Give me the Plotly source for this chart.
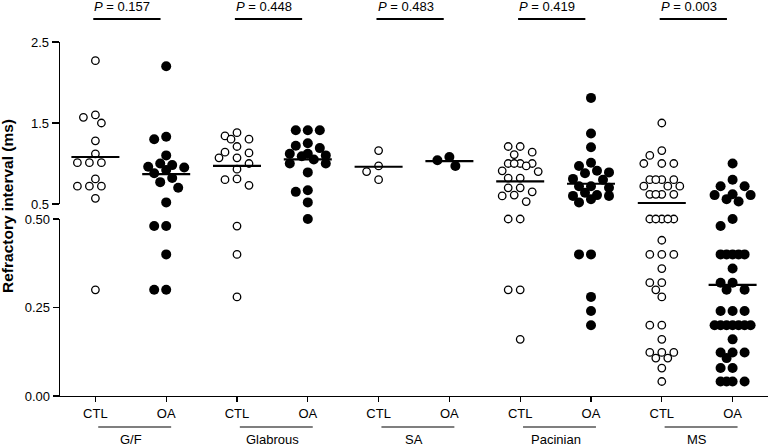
import plotly.graph_objects as go

# ---------------- data ----------------
groups = ["G/F", "Glabrous", "SA", "Pacinian", "MS"]
conditions = ["CTL", "OA"]
p_values = ["0.157", "0.448", "0.483", "0.419", "0.003"]

gf_ctl = [2.27, 1.60, 1.57, 1.50, 1.28, 1.12, 1.01, 1.01, 1.01, 0.81, 0.72, 0.72, 0.72, 0.57, 0.30]
gf_oa = [2.20, 1.33, 1.30, 1.10, 1.00, 0.98, 0.96, 0.95, 0.92, 0.88, 0.82, 0.77, 0.70, 0.52,
         0.48, 0.48, 0.40, 0.30, 0.30]
glab_ctl = [1.38, 1.34, 1.30, 1.30, 1.21, 1.14, 1.13, 1.07, 1.07, 1.00, 0.93, 0.81, 0.80, 0.73,
            0.48, 0.40, 0.28]
glab_oa = [1.41, 1.41, 1.41, 1.25, 1.22, 1.19, 1.12, 1.12, 1.10, 1.09, 1.05, 1.00, 1.00, 0.89,
           0.67, 0.65, 0.52, 0.50]
sa_ctl = [1.16, 0.97, 0.90, 0.80]
sa_oa = [1.08, 1.04, 0.97]
pac_ctl = [1.21, 1.21, 1.14, 1.11, 1.00, 1.00, 1.00, 1.00, 0.97, 0.91, 0.90, 0.82, 0.82, 0.70, 0.70,
           0.65, 0.61, 0.60, 0.53, 0.50, 0.50, 0.30, 0.30, 0.16]
pac_oa = [1.81, 1.37, 1.20, 1.01, 0.97, 0.91, 0.89, 0.88, 0.81, 0.80, 0.72, 0.72, 0.70, 0.64, 0.61,
          0.60, 0.60, 0.56, 0.52, 0.40, 0.40, 0.28, 0.24, 0.20]
ms_ctl = [1.50, 1.16, 1.10, 1.00, 1.00, 1.00, 0.80, 0.80, 0.80, 0.80, 0.72, 0.72, 0.72,
          0.62, 0.62, 0.62, 0.62, 0.50, 0.50, 0.50, 0.50, 0.50, 0.44, 0.40, 0.40, 0.40, 0.36,
          0.32, 0.32, 0.30, 0.28, 0.20, 0.20, 0.16, 0.123, 0.123, 0.123, 0.107, 0.107, 0.079, 0.041]
ms_oa = [1.00, 0.80, 0.72, 0.72, 0.62, 0.61, 0.61, 0.56, 0.53, 0.50, 0.48,
         0.40, 0.40, 0.40, 0.40, 0.40, 0.36, 0.32, 0.32, 0.30, 0.30, 0.24, 0.24, 0.24,
         0.20, 0.20, 0.20, 0.20, 0.20, 0.20, 0.20, 0.16, 0.123, 0.123, 0.123, 0.107,
         0.079, 0.079, 0.041, 0.041, 0.041, 0.041]

means_ctl = [1.08, 0.97, 0.96, 0.78, 0.51]
means_oa = [0.87, 1.05, 1.03, 0.75, 0.314]

series_ctl = [gf_ctl, glab_ctl, sa_ctl, pac_ctl, ms_ctl]
series_oa = [gf_oa, glab_oa, sa_oa, pac_oa, ms_oa]

# ---------------- layout geometry ----------------
W, H = 768, 448
ML, MR, MT, MB = 60, 0, 42, 52
PLOT_TOP, PLOT_BOTTOM = MT, H - MB
LOW_TOP = 219      # pixel of lower segment top (0.50)
UP_BOTTOM = 204    # pixel of upper segment bottom (0.5)
PH = PLOT_BOTTOM - PLOT_TOP
LOW_RANGE = [0, 0.5]
UP_RANGE = [0.5, 2.5]
X_RANGE = [-0.5, 9.5]
PX_PER_UNIT = (W - ML - MR) / (X_RANGE[1] - X_RANGE[0])

low_dom = [0, (PLOT_BOTTOM - LOW_TOP) / PH]
up_dom = [(PLOT_BOTTOM - UP_BOTTOM) / PH, 1]


def ypix(v):
    if v <= 0.5:
        return PLOT_BOTTOM - (v - LOW_RANGE[0]) / (LOW_RANGE[1] - LOW_RANGE[0]) * (PLOT_BOTTOM - LOW_TOP)
    return UP_BOTTOM - (v - UP_RANGE[0]) / (UP_RANGE[1] - UP_RANGE[0]) * (UP_BOTTOM - PLOT_TOP)


def paper_y(pix):
    return (PLOT_BOTTOM - pix) / PH


def swarm(values, diam, step=6, maxoff=18):
    order = sorted(range(len(values)), key=lambda k: -values[k])
    cands = [0]
    for k in range(1, int(maxoff / step) + 1):
        cands += [-k * step, k * step]
    placed, offs = [], [0] * len(values)
    for k in order:
        y = ypix(values[k])
        best, bestd = None, -1.0
        for c in cands:
            md = min([((c - px) ** 2 + (y - py) ** 2) ** 0.5 for px, py in placed], default=1e9)
            if md >= diam:
                best = c
                break
            if md > bestd + 1e-9:
                bestd, best = md, c
        offs[k] = best
        placed.append((best, y))
    return offs


fig = go.Figure()

MEAN_HALF = 24 / PX_PER_UNIT

for gi, g in enumerate(groups):
    for ci, (vals, mean) in enumerate([(series_ctl[gi], means_ctl[gi]), (series_oa[gi], means_oa[gi])]):
        xc = gi * 2 + ci
        filled = ci == 1
        offs = swarm(vals, 10 if filled else 9)
        xs = [xc + o / PX_PER_UNIT for o in offs]
        marker = dict(size=10, color="black", line=dict(width=0)) if filled else \
            dict(size=7.5, color="white", line=dict(width=1.3, color="black"))
        for axis, sel in (("y", lambda v: v <= 0.5), ("y2", lambda v: v > 0.5)):
            px = [x for x, v in zip(xs, vals) if sel(v)]
            py = [v for v in vals if sel(v)]
            if py:
                fig.add_trace(go.Scatter(x=px, y=py, yaxis=axis, mode="markers", marker=marker,
                                         cliponaxis=False, showlegend=False, hoverinfo="skip"))
        fig.add_trace(go.Scatter(x=[xc - MEAN_HALF, xc + MEAN_HALF], y=[mean, mean],
                                 yaxis="y" if mean <= 0.5 else "y2", mode="lines",
                                 line=dict(color="black", width=2.2), cliponaxis=False,
                                 showlegend=False, hoverinfo="skip"))

FONT = "Arial, Liberation Sans, sans-serif"
shapes, annotations = [], []
for gi, g in enumerate(groups):
    x0 = gi * 2
    # group line + label under the axis
    shapes.append(dict(type="line", xref="x", yref="paper", x0=x0 + 0.04, x1=x0 + 1.07,
                       y0=paper_y(427), y1=paper_y(427), line=dict(color="#555", width=1.5)))
    annotations.append(dict(xref="x", yref="paper", x=x0 + 0.5, y=paper_y(439), text=g,
                            showarrow=False, yanchor="middle", font=dict(size=13, color="black", family=FONT)))
    # P value bar + text
    shapes.append(dict(type="line", xref="x", yref="paper", x0=x0 - 0.03, x1=x0 + 0.92,
                       y0=paper_y(19), y1=paper_y(19), line=dict(color="black", width=2)))
    annotations.append(dict(xref="x", yref="paper", x=x0 + 0.38, y=paper_y(6.5),
                            text="<i>P</i> = " + p_values[gi], showarrow=False, yanchor="middle",
                            font=dict(size=13, color="black", family=FONT)))

annotations.append(dict(xref="paper", yref="paper", x=(8 - ML) / (W - ML - MR), y=paper_y(206),
                        text="<b>Refractory interval (ms)</b>", textangle=-90, showarrow=False,
                        xanchor="center", yanchor="middle",
                        font=dict(size=15.5, color="black", family=FONT)))

axis_common = dict(showgrid=False, zeroline=False, showline=True, linecolor="black", linewidth=1.3,
                   ticks="outside", tickcolor="black", tickwidth=1.3,
                   tickfont=dict(size=13, color="black", family=FONT))

fig.update_layout(
    width=W, height=H,
    margin=dict(l=ML, r=MR, t=MT, b=MB),
    paper_bgcolor="white", plot_bgcolor="white",
    showlegend=False,
    font=dict(family=FONT, color="black"),
    xaxis=dict(range=X_RANGE, anchor="y", tickvals=list(range(10)),
               ticktext=[conditions[i % 2] for i in range(10)], ticklen=5, **axis_common),
    yaxis=dict(domain=low_dom, range=LOW_RANGE, anchor="x", tickvals=[0, 0.25, 0.5],
               ticktext=["0.00", "0.25", "0.50"], ticklen=6, **axis_common),
    yaxis2=dict(domain=up_dom, range=UP_RANGE, anchor="x", tickvals=[0.5, 1.5, 2.5],
                ticktext=["0.5", "1.5", "2.5"], ticklen=7, **axis_common),
    shapes=shapes, annotations=annotations,
)

fig.write_html("out.html", config={"displayModeBar": False, "staticPlot": True},
               post_script="document.body.style.margin='0px';")
